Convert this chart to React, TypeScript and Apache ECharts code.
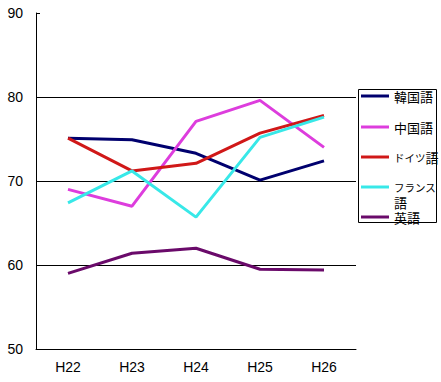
import React, { useEffect, useRef } from "react";
import * as echarts from "echarts";

const categories = ["H22", "H23", "H24", "H25", "H26"];
const korean = [75.1, 74.9, 73.3, 70.1, 72.4];
const chinese = [69.0, 67.0, 77.1, 79.6, 74.0];
const german = [75.1, 71.2, 72.1, 75.7, 77.8];
const french = [67.4, 71.2, 65.7, 75.2, 77.6];
const english = [59.0, 61.4, 62.0, 59.5, 59.4];

const seriesNames = ["韓国語", "中国語", "ドイツ語", "フランス語", "英語"];
const seriesData = [korean, chinese, german, french, english];
const colors = ["#00006e", "#dd3ddd", "#d01818", "#38e8e8", "#6a0a6a"];
const legendCenters = [96, 127, 157, 187, 217];

const legendLabel = (name: string) => {
  if (name === "ドイツ語") return "{k|ドイツ}{b|語}";
  if (name === "フランス語") return "{k2|フランス}\n{b2|語}";
  return "{b|" + name + "}";
};

export default function App() {
  const ref = useRef<HTMLDivElement>(null);
  useEffect(() => {
    if (!ref.current) return;
    const chart = echarts.init(ref.current, null, { renderer: "svg" });
    const legends = seriesNames.map((name, i) => {
      const isFrench = name === "フランス語";
      return {
        show: true,
        data: [name],
        orient: "vertical",
        left: 361,
        top: isFrench ? legendCenters[i] - 22.5 : legendCenters[i] - 6.5,
        padding: 0,
        itemWidth: 28,
        itemHeight: 3,
        icon: "rect",
        selectedMode: false,
        formatter: () => legendLabel(name),
        textStyle: {
          fontFamily: "Noto Sans CJK JP",
          fontSize: 13,
          color: "#000",
          lineHeight: isFrench ? 15 : 13,
          padding: isFrench ? [15, 0, 0, 0] : 0,
          rich: {
            b: { fontFamily: "Noto Sans CJK JP", fontSize: 13, lineHeight: 13, color: "#000" },
            k: { fontFamily: "Noto Sans CJK JP", fontSize: 10.5, lineHeight: 13, color: "#000" },
            b2: { fontFamily: "Noto Sans CJK JP", fontSize: 13, lineHeight: 15, color: "#000" },
            k2: { fontFamily: "Noto Sans CJK JP", fontSize: 10.5, lineHeight: 15, color: "#000" },
          },
        },
      };
    });
    chart.setOption({
      animation: false,
      backgroundColor: "#fff",
      grid: { left: 36, top: 13, width: 320, height: 336, containLabel: false },
      legend: legends,
      graphic: [
        {
          type: "rect",
          shape: { x: 358.5, y: 89.5, width: 78, height: 133 },
          style: { fill: "none", stroke: "#000", lineWidth: 1 },
          z: 10,
        },
      ],
      xAxis: {
        type: "category",
        data: categories,
        boundaryGap: true,
        axisLine: { lineStyle: { color: "#000", width: 1 } },
        axisTick: { inside: true, length: 4, lineStyle: { color: "#000" } },
        axisLabel: {
          color: "#000",
          fontSize: 14,
          fontFamily: "Liberation Sans",
          margin: 11,
        },
        splitLine: { show: false },
      },
      yAxis: {
        type: "value",
        min: 50,
        max: 90,
        interval: 10,
        axisLine: { show: true, lineStyle: { color: "#000", width: 1 } },
        axisTick: { show: true, inside: true, length: 4, lineStyle: { color: "#000" } },
        axisLabel: {
          color: "#000",
          fontSize: 14,
          fontFamily: "Liberation Sans",
          margin: 13,
        },
        splitLine: {
          show: true,
          showMaxLine: false,
          lineStyle: { color: "#000", width: 1 },
        },
      },
      series: seriesNames.map((name, i) => ({
        name,
        type: "line",
        data: seriesData[i],
        showSymbol: false,
        symbol: "none",
        color: colors[i],
        lineStyle: { width: 3, color: colors[i] },
      })),
    });
    return () => chart.dispose();
  }, []);
  return (
    <div
      ref={ref}
      style={{ position: "fixed", left: 0, top: 0, width: 441, height: 382 }}
    />
  );
}
